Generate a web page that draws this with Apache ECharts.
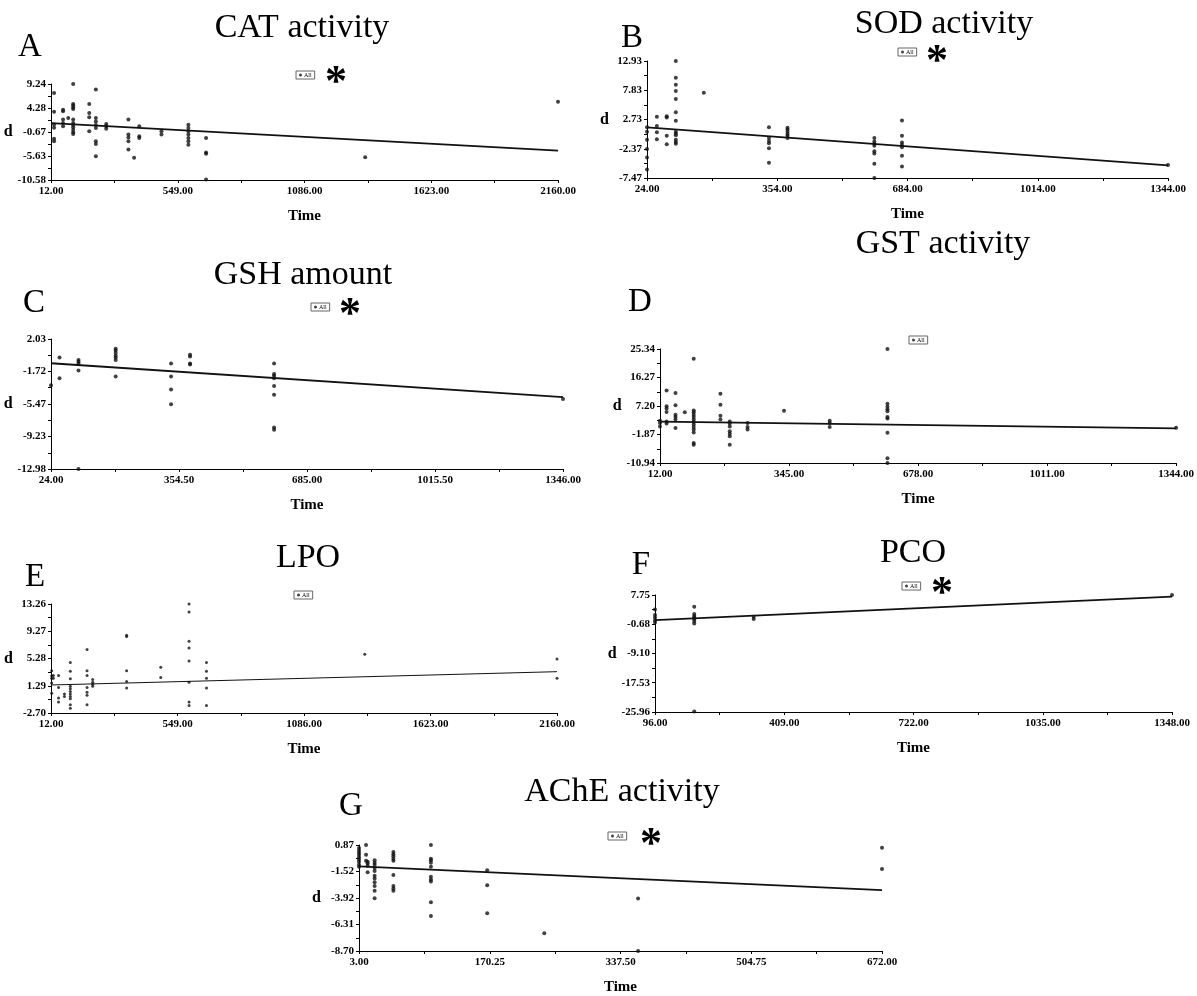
<!DOCTYPE html>
<html>
<head>
<meta charset="UTF-8">
<script src="https://cdn.jsdelivr.net/npm/echarts@6/dist/echarts.min.js"></script>
</head>
<body style="margin:0; background:#fff">
<div id="container" style="width:1197px;height:996px;"></div>
<script>
// scatter columns: [time, [d values at that time]]
var catPoints = [
  [25, [7.4, 3.5, 0.9, 0.2, -2.05, -2.6]],
  [63, [3.9, 3.6, 1.9, 1.2, 0.5]],
  [85, [2.2]],
  [106, [9.24, 5.1, 4.8, 4.4, 4.1, 1.9, 1.2, 0.8, 0.3, -0.2, -0.7, -1.1]],
  [174, [5.1, 3.25, 2.35, -0.5]],
  [202, [8.1, 2.2, 1.5, 0.8, 0.15, -2.6, -3.15, -5.7]],
  [246, [1.0, 0.5, 0.0]],
  [340, [1.9, -1.2, -1.8, -2.6, -4.3]],
  [364, [-6.0]],
  [386, [0.5, -1.55, -1.9]],
  [480, [-0.5, -1.2]],
  [594, [0.85, 0.15, -0.5, -1.2, -1.9, -2.6, -3.3]],
  [669, [-1.9, -4.9, -5.15, -10.5]],
  [1343, [-5.9]],
  [2160, [5.6]]
];
var catFit = [[12, 1.15], [2160, -4.5]];
var catX = [12, 549, 1086, 1623, 2160];
var catY = [-10.58, -5.63, -0.67, 4.28, 9.24];

var sodPoints = [
  [24, [1.4, 0.6, -0.8, -2.4, -3.9, -6.0]],
  [49, [3.2, 1.6, 0.5, -0.7]],
  [74, [3.3, 3.1, -0.1, -1.6]],
  [97, [12.93, 10.0, 8.8, 7.7, 6.3, 4.0, 2.5, 0.6, 0.3, 0.0, -0.8, -1.2, -1.5]],
  [168, [7.4]],
  [333, [1.4, -0.5, -1.0, -1.4, -2.3, -4.8]],
  [380, [1.3, 1.0, 0.6, 0.2, -0.1, -0.5]],
  [600, [-0.5, -1.1, -1.5, -1.85, -2.8, -3.2, -5.0, -7.47]],
  [670, [2.55, -0.1, -1.3, -1.7, -2.1, -3.6, -5.45]],
  [1344, [-5.2]]
];
var sodFit = [[24, 1.37], [1344, -5.27]];
var sodX = [24, 354, 684, 1014, 1344];
var sodY = [-7.47, -2.37, 2.73, 7.83, 12.93];

var gshPoints = [
  [24, [-3.3]],
  [46, [-0.1, -2.5]],
  [95, [2.05, -0.4, -0.6, -0.8, -1.6, -12.98]],
  [191, [0.9, 0.7, 0.4, 0.1, -0.1, -0.4, -2.3]],
  [334, [-0.8, -2.3, -3.8, -5.5]],
  [383, [0.2, 0.0, -0.8, -0.9]],
  [600, [-0.8, -2.0, -2.2, -2.5, -3.4, -4.4, -8.2, -8.45]],
  [1346, [-4.9]]
];
var gshFit = [[24, -0.77], [1346, -4.69]];
var gshX = [24, 354.5, 685, 1015.5, 1346];
var gshY = [-12.98, -9.23, -5.47, -1.72, 2.03];

var gstPoints = [
  [12, [2.5, 1.8, 0.7]],
  [29, [12.1, 7.1, 6.4, 5.3, 2.3, 1.6]],
  [52, [11.3, 7.4, 4.45, 3.7, 2.9, 0.2]],
  [76, [5.2]],
  [99, [22.2, 5.8, 5.2, 4.45, 3.7, 2.9, 2.1, 1.3, 0.5, -0.3, -1.2, -4.6, -5.1]],
  [168, [11.1, 7.6, 4.1, 2.9]],
  [192, [2.3, 1.6, 0.7, -0.85, -1.6, -2.4, -5.1]],
  [238, [1.8, 0.5, -0.3]],
  [332, [5.7]],
  [450, [2.5, 1.8, 0.5]],
  [599, [25.34, 7.9, 7.0, 6.2, 5.5, 3.7, 3.2, -1.3, -9.4, -10.94]],
  [1344, [0.25]]
];
var gstFit = [[12, 2.2], [1344, 0.1]];
var gstX = [12, 345, 678, 1011, 1344];
var gstY = [-10.94, -1.87, 7.20, 16.27, 25.34];

var lpoPoints = [
  [15, [3.5, 2.75, 2.4, 1.7, 0.2]],
  [22, [2.8, 2.4]],
  [44, [2.8, 1.05, -0.5, -1.1]],
  [69, [0.07, -0.27]],
  [94, [4.7, 3.4, 2.3, 1.2, 0.85, 0.45, 0.1, -0.3, -0.6, -1.5, -2.0]],
  [165, [6.6, 3.5, 2.8, 1.05, 0.35, -0.1, -1.5]],
  [189, [2.2, 1.8, 1.5, 1.2]],
  [333, [8.7, 8.5, 3.5, 1.9, 0.95]],
  [478, [4.0, 2.5]],
  [598, [13.26, 12.1, 7.8, 6.8, 4.9, 1.8, -1.1, -1.6]],
  [672, [4.7, 3.4, 2.4, 0.95, -1.6]],
  [1344, [5.9]],
  [2160, [5.2, 2.4]]
];
var lpoFit = [[12, 1.4], [2160, 3.35]];
var lpoX = [12, 549, 1086, 1623, 2160];
var lpoY = [-2.70, 1.29, 5.28, 9.27, 13.26];

var pcoPoints = [
  [96, [3.6, 2.0, 1.3, 0.5, -0.15]],
  [191, [4.4, 2.3, 1.7, 1.3, 0.8, 0.25, -0.45, -25.8]],
  [335, [1.5, 0.8]],
  [1348, [7.75]]
];
var pcoFit = [[96, 0.52], [1348, 7.27]];
var pcoX = [96, 409, 722, 1035, 1348];
var pcoY = [-25.96, -17.53, -9.10, -0.68, 7.75];

var achePoints = [
  [3, [0.6, 0.37, 0.18, 0.0, -0.23, -0.45, -0.64, -0.92, -1.1]],
  [12, [0.87, 0.0, -0.56]],
  [14, [-0.64, -0.78, -1.0, -1.6]],
  [23, [-0.5, -0.73, -0.92, -1.2, -1.47, -1.9, -2.16, -2.5, -2.84, -3.26, -3.94]],
  [47, [0.24, 0.04, -0.15, -0.37, -0.56, -1.83, -2.84, -3.06, -3.26]],
  [95, [0.87, -0.37, -0.51, -0.73, -1.1, -2.0, -2.24, -2.43, -4.3, -5.54]],
  [167, [-1.4, -2.76, -5.3]],
  [240, [-7.1]],
  [360, [-3.97, -8.7]],
  [672, [0.62, -1.3]]
];
var acheFit = [[3, -1.06], [672, -3.2]];
var acheX = [3, 170.25, 337.5, 504.75, 672];
var acheY = [-8.70, -6.31, -3.92, -1.52, 0.87];

var serif = "'Liberation Serif', 'Times New Roman', serif";

// layout of each panel: grid box [left, top, width, height] plus text anchors
var panels = [
  {title: 'CAT activity', letter: 'A', star: true, pts: catPoints, fit: catFit, xt: catX, yt: catY,
   box: [51, 84, 507, 96], titleAt: [302, 28], letterAt: [30, 47], legendAt: [306, 76], starAt: [336, 76]},
  {title: 'SOD activity', letter: 'B', star: true, pts: sodPoints, fit: sodFit, xt: sodX, yt: sodY,
   box: [647, 61, 521, 117], titleAt: [944, 24], letterAt: [632, 38], legendAt: [908, 53], starAt: [937, 55]},
  {title: 'GSH amount', letter: 'C', star: true, pts: gshPoints, fit: gshFit, xt: gshX, yt: gshY,
   box: [51, 339, 512, 130], titleAt: [303, 275], letterAt: [34, 303], legendAt: [321, 308], starAt: [350, 308]},
  {title: 'GST activity', letter: 'D', star: false, pts: gstPoints, fit: gstFit, xt: gstX, yt: gstY,
   box: [660, 349, 517, 114], titleAt: [943, 244], letterAt: [640, 302], legendAt: [919, 341]},
  {title: 'LPO', letter: 'E', star: false, pts: lpoPoints, fit: lpoFit, xt: lpoX, yt: lpoY, thin: true,
   box: [51, 604, 506, 109], titleAt: [308, 558], letterAt: [35, 577], legendAt: [304, 596]},
  {title: 'PCO', letter: 'F', star: true, pts: pcoPoints, fit: pcoFit, xt: pcoX, yt: pcoY,
   box: [655, 595, 517, 117], titleAt: [913, 553], letterAt: [641, 565], legendAt: [912, 587], starAt: [942, 587]},
  {title: 'AChE activity', letter: 'G', star: true, pts: achePoints, fit: acheFit, xt: acheX, yt: acheY,
   box: [359, 845, 523, 116], titleAt: [622, 792], letterAt: [351, 806], legendAt: [618, 837], starAt: [651, 838]}
];

function toPairs(cols) {
  var out = [];
  cols.forEach(function (c) {
    c[1].forEach(function (v) { out.push([c[0], v]); });
  });
  return out;
}

function withMid(ticks) {
  var r = [];
  for (var i = 0; i < ticks.length; i++) {
    r.push(ticks[i]);
    if (i < ticks.length - 1) r.push((ticks[i] + ticks[i + 1]) / 2);
  }
  return r;
}

function fmt(v) { return Number(v).toFixed(2); }

var grid = [], xAxis = [], yAxis = [], series = [], legend = [], graphic = [];

panels.forEach(function (p, i) {
  grid.push({left: p.box[0], top: p.box[1], width: p.box[2], height: p.box[3], containLabel: false});
  var axisCommon = {
    type: 'value',
    gridIndex: i,
    splitLine: {show: false},
    axisLine: {show: true, onZero: false, lineStyle: {color: '#000', width: 1}},
    axisTick: {show: true, length: 3, lineStyle: {color: '#000'}},
    axisLabel: {color: '#000', fontFamily: serif, fontWeight: 'bold', fontSize: 11, formatter: fmt}
  };
  xAxis.push(echarts.util.merge({
    min: p.xt[0], max: p.xt[p.xt.length - 1],
    name: 'Time', nameLocation: 'middle', nameGap: 29,
    nameTextStyle: {fontFamily: serif, fontWeight: 'bold', fontSize: 15, color: '#000'},
    axisTick: {customValues: withMid(p.xt)},
    axisLabel: {customValues: p.xt, margin: 6}
  }, axisCommon, false));
  yAxis.push(echarts.util.merge({
    min: p.yt[0], max: p.yt[p.yt.length - 1],
    name: 'd', nameLocation: 'middle', nameRotate: 0, nameGap: 38,
    nameTextStyle: {fontFamily: serif, fontWeight: 'bold', fontSize: 16, color: '#000'},
    axisTick: {customValues: withMid(p.yt)},
    axisLabel: {customValues: p.yt, margin: 5}
  }, axisCommon, false));

  series.push({
    name: 'All', type: 'scatter', xAxisIndex: i, yAxisIndex: i,
    data: toPairs(p.pts),
    symbolSize: p.thin ? 3 : 4,
    itemStyle: {color: '#111'}
  });
  series.push({
    name: 'fit' + i, type: 'line', xAxisIndex: i, yAxisIndex: i,
    data: p.fit, showSymbol: false, silent: true,
    lineStyle: {color: '#111', width: p.thin ? 1 : 1.8}
  });

  legend.push({
    data: ['All'], left: p.legendAt[0] - 10, top: p.legendAt[1] - 5,
    icon: 'circle', itemWidth: 3, itemHeight: 3, itemGap: 2,
    padding: [1, 3], borderColor: '#666', borderWidth: 1,
    selectedMode: false,
    textStyle: {fontSize: 6, color: '#000', fontFamily: serif, padding: [0, 0, 0, -3]}
  });

  graphic.push({
    type: 'text', x: p.titleAt[0], y: p.titleAt[1],
    style: {text: p.title, fontFamily: serif, fontSize: 34, fill: '#000', align: 'center', verticalAlign: 'middle'}
  });
  graphic.push({
    type: 'text', x: p.letterAt[0], y: p.letterAt[1],
    style: {text: p.letter, fontFamily: serif, fontSize: 33, fill: '#000', align: 'center', verticalAlign: 'middle'}
  });
  if (p.star) {
    graphic.push({
      type: 'text', x: p.starAt[0], y: p.starAt[1] + 8,
      style: {text: '*', fontFamily: serif, fontWeight: 'bold', fontSize: 44, fill: '#000', align: 'center', verticalAlign: 'middle'}
    });
  }
});

var myChart = echarts.init(document.getElementById('container'));
var option = {
  animation: false,
  backgroundColor: '#fff',
  grid: grid,
  xAxis: xAxis,
  yAxis: yAxis,
  legend: legend,
  graphic: graphic,
  series: series
};
myChart.setOption(option, true);
</script>
</body>
</html>
